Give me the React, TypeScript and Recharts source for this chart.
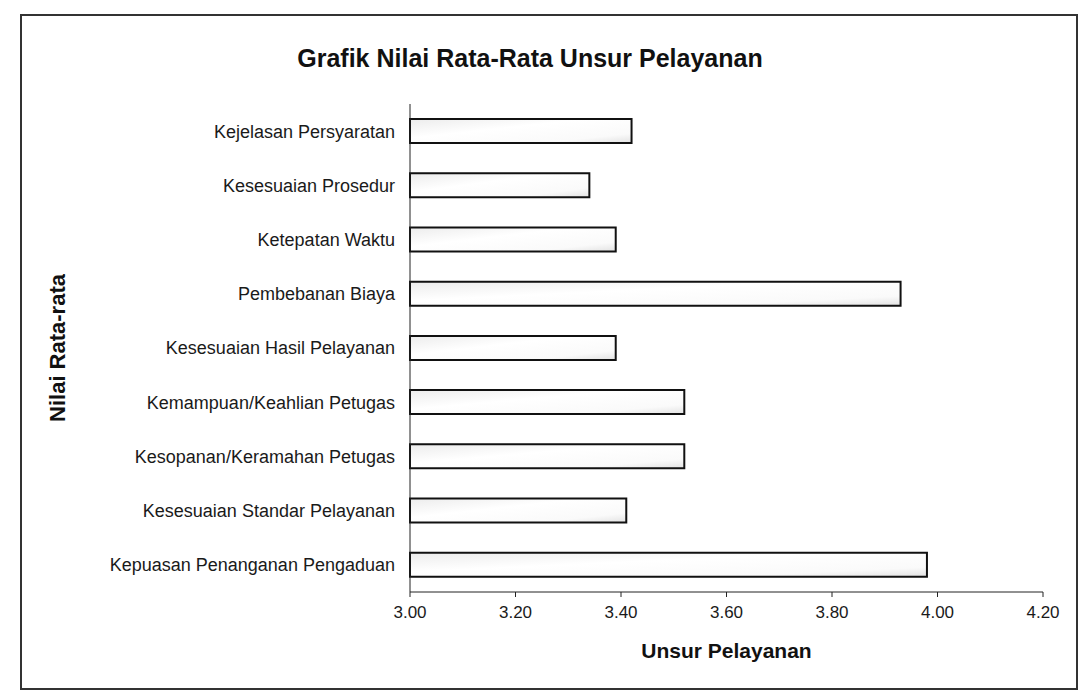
import { BarChart, Bar, XAxis, YAxis } from 'recharts';

const categories = [
  'Kejelasan Persyaratan',
  'Kesesuaian Prosedur',
  'Ketepatan Waktu',
  'Pembebanan Biaya',
  'Kesesuaian Hasil Pelayanan',
  'Kemampuan/Keahlian Petugas',
  'Kesopanan/Keramahan Petugas',
  'Kesesuaian Standar Pelayanan',
  'Kepuasan Penanganan Pengaduan',
];

const nilai = [3.42, 3.34, 3.39, 3.93, 3.39, 3.52, 3.52, 3.41, 3.98];

const xTicks = [3.0, 3.2, 3.4, 3.6, 3.8, 4.0, 4.2];

const data = categories.map((name, i) => ({ name, nilai: nilai[i] }));

const font = '"Liberation Sans", Arial, sans-serif';

export default function App() {
  return (
    <div style={{ position: 'absolute', left: 0, top: 0, width: 1082, height: 693, background: '#fff', fontFamily: font }}>
      <div
        style={{
          position: 'absolute',
          left: 20,
          top: 14,
          width: 1054,
          height: 672,
          border: '2px solid #333',
        }}
      />
      <div
        style={{
          position: 'absolute',
          left: 0,
          top: 43,
          width: 1060,
          textAlign: 'center',
          fontSize: 25,
          lineHeight: '30px',
          fontWeight: 'bold',
          color: '#111',
        }}
      >
        Grafik Nilai Rata-Rata Unsur Pelayanan
      </div>
      <div style={{ position: 'absolute', left: 0, top: 0 }}>
        <BarChart
          width={1082}
          height={693}
          data={data}
          layout="vertical"
          margin={{ top: 104, right: 39, bottom: 31, left: 20 }}
          style={{ fontFamily: font }}
        >
          <defs>
            <linearGradient id="barFill" x1="0" y1="0" x2="1" y2="1">
              <stop offset="0%" stopColor="#ececec" />
              <stop offset="40%" stopColor="#ffffff" />
              <stop offset="80%" stopColor="#fafafa" />
              <stop offset="100%" stopColor="#e2e2e2" />
            </linearGradient>
          </defs>
          <XAxis
            type="number"
            domain={[3, 4.2]}
            ticks={xTicks}
            tickFormatter={(v: number) => v.toFixed(2)}
            stroke="#222"
            tick={{ fill: '#1a1a1a', fontSize: 17 }}
            tickSize={5}
            tickMargin={9}
            height={70}
            label={{
              value: 'Unsur Pelayanan',
              position: 'insideBottom',
              offset: 4,
              style: { fontSize: 21, fontWeight: 'bold', fill: '#111' },
            }}
          />
          <YAxis
            type="category"
            dataKey="name"
            width={390}
            stroke="#222"
            tickLine={false}
            tickSize={6}
            tickMargin={9}
            tick={{ fill: '#1a1a1a', fontSize: 18 }}
            interval={0}
            label={{
              value: 'Nilai Rata-rata',
              angle: -90,
              position: 'insideLeft',
              offset: 37,
              style: { fontSize: 22, fontWeight: 'bold', fill: '#111', textAnchor: 'middle' },
            }}
          />
          <Bar
            dataKey="nilai"
            barSize={24}
            fill="url(#barFill)"
            stroke="#111"
            strokeWidth={2}
            isAnimationActive={false}
          />
        </BarChart>
      </div>
    </div>
  );
}
